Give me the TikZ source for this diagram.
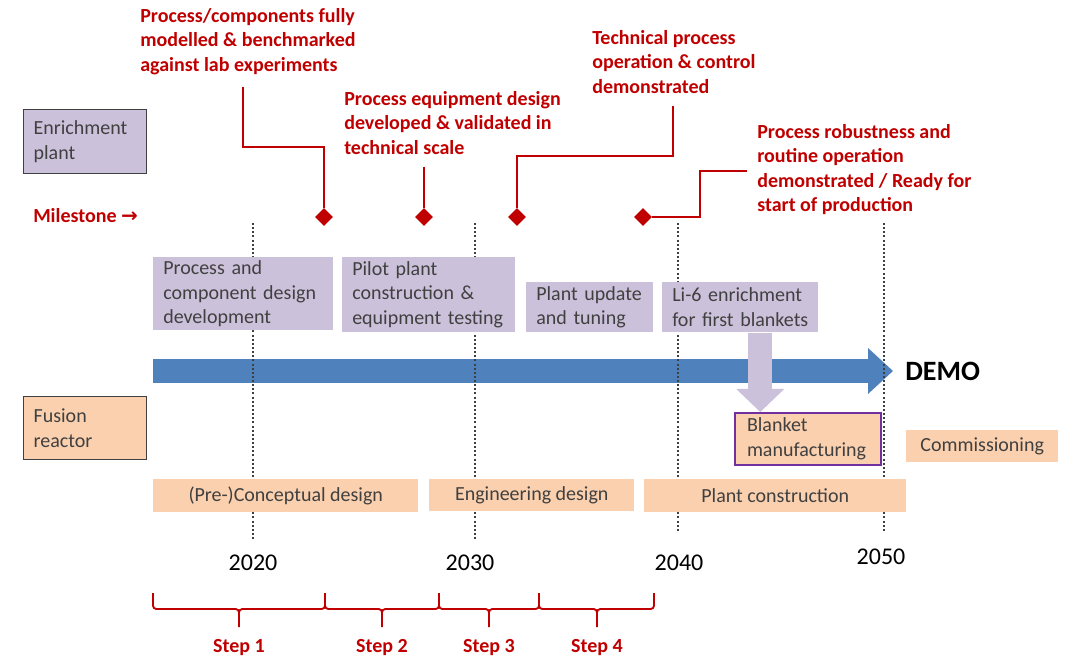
\documentclass[tikz,border=0pt]{standalone}
\usepackage{fontspec}
\setmainfont{Carlito}
\newfontfamily\arrowfont{DejaVu Sans}
\usepackage{tikz}
\usetikzlibrary{arrows.meta, positioning, shapes.geometric}
\usepackage{xcolor}
\definecolor{msred}{RGB}{192,0,0}
\definecolor{enrich}{RGB}{204,193,218}
\definecolor{fusion}{RGB}{250,208,174}
\definecolor{demoblue}{RGB}{79,129,189}
\definecolor{inkgray}{RGB}{64,64,64}
\definecolor{blanketedge}{RGB}{112,48,160}
\newcommand{\txt}{\fontsize{15}{18.4}\selectfont}
\newcommand{\yr}{\fontsize{18}{22}\selectfont}
\newcommand{\demofont}{\fontsize{21}{25}\selectfont\bfseries}

\begin{document}
\begin{tikzpicture}[
    x=0.75pt, y=-0.75pt,
    box/.style={rectangle, fill=#1, anchor=north west, inner xsep=7.5pt, inner ysep=0pt,
                align=left, text=inkgray, font=\txt},
    phase/.style={rectangle, fill=fusion, anchor=north west, inner sep=0pt,
                  align=center, text=inkgray, font=\txt},
    msnote/.style={anchor=north west, inner sep=0pt, align=left, text=msred, font=\txt\bfseries},
    mstone/.style={diamond, fill=msred, inner sep=0pt, minimum width=13.5pt, minimum height=13.5pt},
    msline/.style={msred, line width=1.5pt},
    guide/.style={black!75, line width=1.1pt, dash pattern=on 1.5pt off 1.6pt},
    bracket/.style={msred, line width=1.4pt, rounded corners=2.5pt},
    steplab/.style={text=msred, font=\txt\bfseries},
    yearlab/.style={font=\yr},
    timeline/.style={demoblue, line width=18pt, -{Triangle[width=34.5pt, length=18.75pt, line width=0pt]}},
    feed/.style={enrich, line width=18pt, -{Triangle[width=36pt, length=17.25pt, line width=0pt]}},
]
    \useasboundingbox (0,0) rectangle (1068,659);

    % Timeline
    \coordinate (tstart) at (153,371);
    \node[font=\demofont, anchor=west, inner sep=9pt] (demo) at (893,371) {DEMO};
    \draw[timeline] (tstart) -- (demo);

    \draw[guide] (253,223) -- (253,539);
    \draw[guide] (475,223) -- (475,539);
    \draw[guide] (678,223) -- (678,533);
    \draw[guide] (884,223) -- (884,532);

    % Rows
    \node[box=enrich, draw=inkgray, line width=1pt, text width=77.25pt, minimum height=48pt] (enrichment) at (23,109) {Enrichment\\plant};
    \node[box=fusion, draw=inkgray, line width=1pt, text width=77.25pt, minimum height=47.25pt] (reactor) at (23,396) {Fusion\\reactor};

    \node[box=enrich, text width=120pt, minimum height=54.75pt] (procdev) at (153,257) {Process and\\\mbox{component design}\\development};
    \node[box=enrich, text width=114.75pt, minimum height=56.25pt] (pilot) at (342,257) {Pilot plant\\construction \&\\\mbox{equipment testing}};
    \node[box=enrich, text width=80.25pt, minimum height=37.5pt] (tuning) at (526,282) {\mbox{Plant update}\\\mbox{and tuning}};
    \node[box=enrich, text width=102pt, minimum height=37.5pt] (li6) at (662,282) {\mbox{Li-6 enrichment}\\\mbox{for first blankets}};
    \node[box=fusion, draw=blanketedge, line width=1.5pt, inner xsep=9pt, text width=91.5pt, minimum height=39pt] (blanket) at (734,412) {Blanket\\\mbox{manufacturing}};

    \node[phase, minimum width=114pt, minimum height=24pt] (commission) at (906,430) {Commissioning};
    \node[phase, minimum width=198.75pt, minimum height=24.75pt] (concept) at (153,479) {(Pre-)Conceptual design};
    \node[phase, minimum width=153.75pt, minimum height=24pt] (engineering) at (429,479) {Engineering design};
    \node[phase, minimum width=196.5pt, minimum height=24.75pt] (construction) at (644,479) {Plant construction};

    \draw[feed] ([xshift=15pt]li6.south) -- ([xshift=15pt]li6.south |- blanket.north);

    % Milestones
    \node[msnote, anchor=west] (milestone) at (33,216) {Milestone {\arrowfont →}};
    \node[msnote] (note1) at (140,8) {Process/components fully\\modelled \& benchmarked\\against lab experiments};
    \node[msnote] (note2) at (344,91) {Process equipment design\\developed \& validated in\\technical scale};
    \node[msnote] (note3) at (592,30) {Technical process\\operation \& control\\demonstrated};
    \node[msnote] (note4) at (757,124) {Process robustness and\\routine operation\\demonstrated / Ready for\\start of production};

    \node[mstone] (ms1) at (324,217) {};
    \node[mstone] (ms2) at (424,217) {};
    \node[mstone] (ms3) at (517,217) {};
    \node[mstone] (ms4) at (643,217) {};

    \coordinate (s1) at (243,87);
    \coordinate (k1) at (324,147);
    \coordinate (s2) at (424,167);
    \coordinate (s3) at (673,106);
    \coordinate (k3) at (517,156);
    \coordinate (k4) at (700,217);
    \coordinate (s4) at (747,171);

    \draw[msline] (s1) |- (k1) -- (ms1);
    \draw[msline] (s2) -- (ms2);
    \draw[msline] (s3) |- (k3) -- (ms3);
    \draw[msline] (ms4) -- (k4) |- (s4);

    % Years
    \node[yearlab] (y2020) at (253,563) {2020};
    \node[yearlab] (y2030) at (470,563) {2030};
    \node[yearlab] (y2040) at (679,563) {2040};
    \node[yearlab] (y2050) at (881,557) {2050};

    % Steps
    \draw[bracket] (153,593) -- (153,609) -- (239,609) -- (239,627) (239,627) -- (239,609) -- (325,609) -- (325,593);
    \draw[bracket] (325,593) -- (325,609) -- (382,609) -- (382,627) (382,627) -- (382,609) -- (439,609) -- (439,593);
    \draw[bracket] (439,593) -- (439,609) -- (489,609) -- (489,627) (489,627) -- (489,609) -- (539,609) -- (539,593);
    \draw[bracket] (539,593) -- (539,609) -- (597,609) -- (597,627) (597,627) -- (597,609) -- (654,609) -- (654,593);

    \node[steplab] (step1) at (239,648) {Step 1};
    \node[steplab] (step2) at (382,648) {Step 2};
    \node[steplab] (step3) at (489,648) {Step 3};
    \node[steplab] (step4) at (597,648) {Step 4};
\end{tikzpicture}
\end{document}
